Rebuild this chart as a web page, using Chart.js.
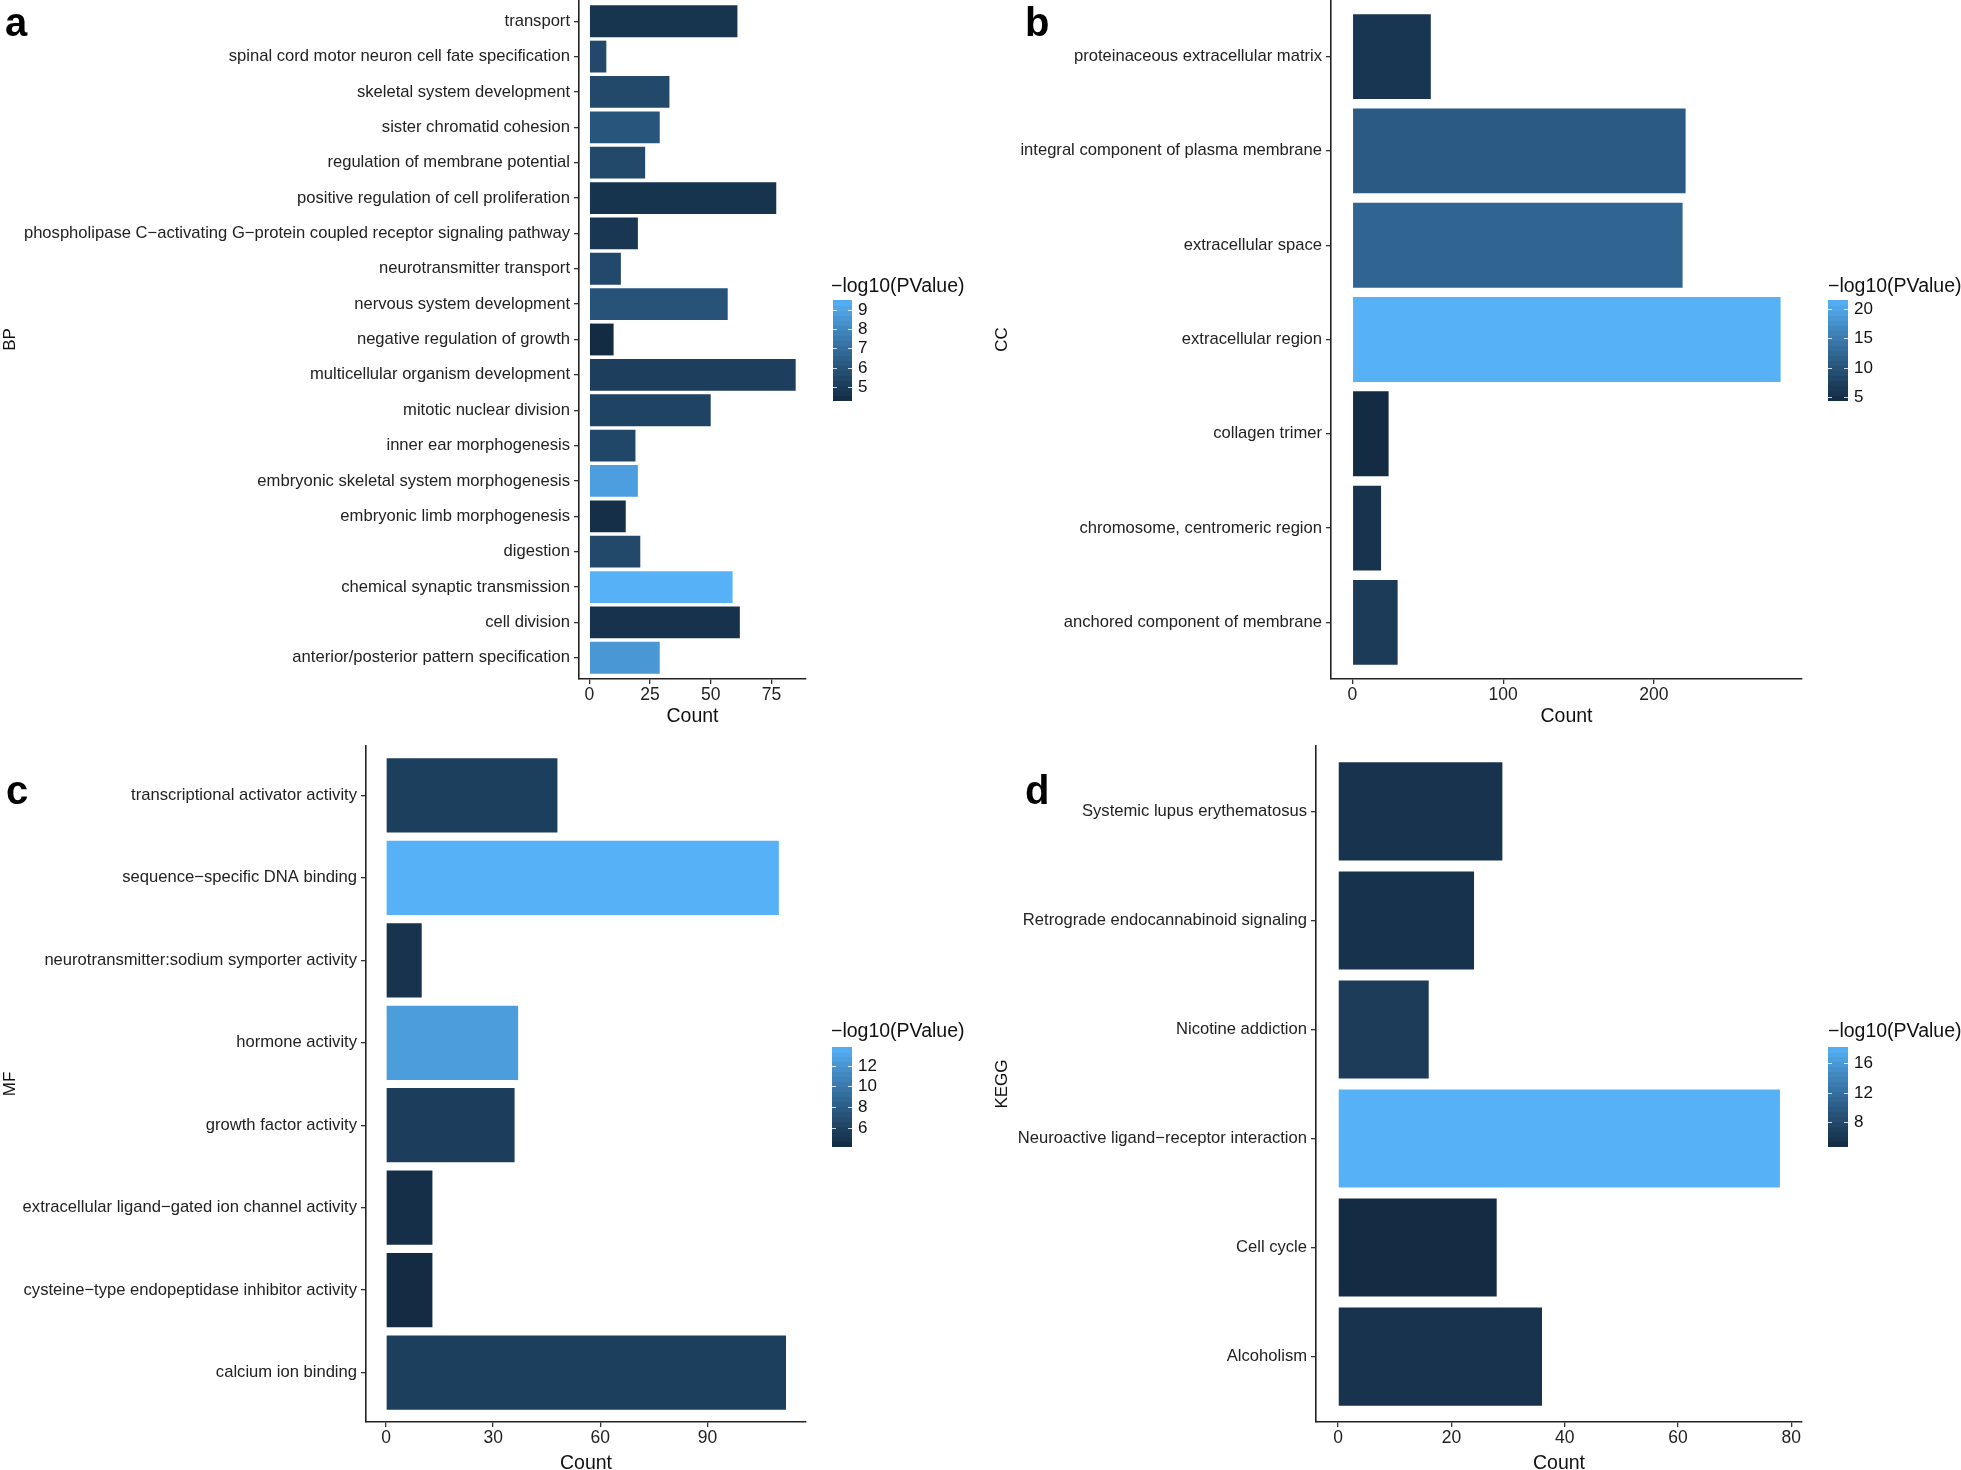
<!DOCTYPE html>
<html>
<head>
<meta charset="utf-8">
<script src="https://cdn.jsdelivr.net/npm/chart.js@4.4.1/dist/chart.umd.min.js"></script>
<style>
  body { margin: 0; background: #fff; width: 1961px; height: 1470px; position: relative; overflow: hidden; }
  canvas { position: absolute; }
</style>
</head>
<body>
<canvas id="ca" width="980" height="735" style="left:0;top:0"></canvas>
<canvas id="cb" width="981" height="735" style="left:980px;top:0"></canvas>
<canvas id="cc" width="980" height="735" style="left:0;top:735px"></canvas>
<canvas id="cd" width="981" height="735" style="left:980px;top:735px"></canvas>
<script>
// ---- data (top to bottom as drawn) ----
const bpTerms = ['transport', 'spinal cord motor neuron cell fate specification', 'skeletal system development',
  'sister chromatid cohesion', 'regulation of membrane potential', 'positive regulation of cell proliferation',
  'phospholipase C\u2212activating G\u2212protein coupled receptor signaling pathway', 'neurotransmitter transport',
  'nervous system development', 'negative regulation of growth', 'multicellular organism development',
  'mitotic nuclear division', 'inner ear morphogenesis', 'embryonic skeletal system morphogenesis',
  'embryonic limb morphogenesis', 'digestion', 'chemical synaptic transmission', 'cell division',
  'anterior/posterior pattern specification'];
const bpCount = [61, 7, 33, 29, 23, 77, 20, 13, 57, 10, 85, 50, 19, 20, 15, 21, 59, 62, 29];
const bpLogP = [4.75, 5.6, 5.55, 6.1, 5.55, 4.7, 4.8, 5.6, 6.0, 4.32, 5.15, 5.35, 5.5, 8.85, 4.5, 5.55, 9.52, 4.65, 8.6];
const bpTicks = [0, 25, 50, 75];
const bpBarTicks = [5, 6, 7, 8, 9];

const ccTerms = ['proteinaceous extracellular matrix', 'integral component of plasma membrane', 'extracellular space',
  'extracellular region', 'collagen trimer', 'chromosome, centromeric region', 'anchored component of membrane'];
const ccCount = [52, 221, 219, 284, 24, 19, 30];
const ccLogP = [6.0, 11.1, 12.4, 21.5, 4.5, 5.7, 6.75];
const ccTicks = [0, 100, 200];
const ccBarTicks = [5, 10, 15, 20];

const mfTerms = ['transcriptional activator activity', 'sequence\u2212specific DNA binding',
  'neurotransmitter:sodium symporter activity', 'hormone activity', 'growth factor activity',
  'extracellular ligand\u2212gated ion channel activity', 'cysteine\u2212type endopeptidase inhibitor activity',
  'calcium ion binding'];
const mfCount = [48, 110, 10, 37, 36, 13, 13, 112];
const mfLogP = [5.85, 13.8, 4.9, 12.5, 5.67, 4.55, 4.26, 5.88];
const mfTicks = [0, 30, 60, 90];
const mfBarTicks = [6, 8, 10, 12];

const keggTerms = ['Systemic lupus erythematosus', 'Retrograde endocannabinoid signaling', 'Nicotine addiction',
  'Neuroactive ligand\u2212receptor interaction', 'Cell cycle', 'Alcoholism'];
const keggCount = [29, 24, 16, 78, 28, 36];
const keggLogP = [5.7, 5.6, 6.66, 18.2, 4.75, 5.7];
const keggTicks = [0, 20, 40, 60, 80];
const keggBarTicks = [8, 12, 16];

const LOW = '#132B43', HIGH = '#56B1F7';
const FONT = '"Liberation Sans", Arial, sans-serif';
Chart.defaults.font.family = FONT;

// ggplot style gradient, mixed in Lab space
function toLin(c) { c /= 255; return c <= 0.04045 ? c / 12.92 : Math.pow((c + 0.055) / 1.055, 2.4); }
function fromLin(c) {
  c = c <= 0.0031308 ? 12.92 * c : 1.055 * Math.pow(c, 1 / 2.4) - 0.055;
  return Math.round(Math.min(1, Math.max(0, c)) * 255);
}
function hexToLab(h) {
  const r = toLin(parseInt(h.slice(1, 3), 16)), g = toLin(parseInt(h.slice(3, 5), 16)), b = toLin(parseInt(h.slice(5, 7), 16));
  const X = (0.4124 * r + 0.3576 * g + 0.1805 * b) / 0.95047;
  const Y = 0.2126 * r + 0.7152 * g + 0.0722 * b;
  const Z = (0.0193 * r + 0.1192 * g + 0.9505 * b) / 1.08883;
  const f = t => t > 0.008856 ? Math.cbrt(t) : 7.787 * t + 16 / 116;
  return [116 * f(Y) - 16, 500 * (f(X) - f(Y)), 200 * (f(Y) - f(Z))];
}
function labToCss(L, a, b) {
  const fy = (L + 16) / 116, fx = fy + a / 500, fz = fy - b / 200;
  const inv = t => t * t * t > 0.008856 ? t * t * t : (t - 16 / 116) / 7.787;
  const X = inv(fx) * 0.95047, Y = inv(fy), Z = inv(fz) * 1.08883;
  const r = 3.2406 * X - 1.5372 * Y - 0.4986 * Z;
  const g = -0.9689 * X + 1.8758 * Y + 0.0415 * Z;
  const bb = 0.0557 * X - 0.2040 * Y + 1.0570 * Z;
  return `rgb(${fromLin(r)},${fromLin(g)},${fromLin(bb)})`;
}
const lowLab = hexToLab(LOW), highLab = hexToLab(HIGH);
function fillFor(v, lo, hi) {
  const t = Math.min(1, Math.max(0, (v - lo) / (hi - lo)));
  return labToCss(...lowLab.map((c, i) => c + (highLab[i] - c) * t));
}

// panel letter + colour bar legend
function decor(letter, lx, ly, cb, lo, hi, barTicks) {
  return {
    id: 'decor',
    afterDraw(chart) {
      const ctx = chart.ctx;
      ctx.save();
      ctx.fillStyle = '#000';
      ctx.textBaseline = 'alphabetic';
      ctx.textAlign = 'left';
      ctx.font = `bold 40px ${FONT}`;
      ctx.fillText(letter, lx, ly);

      ctx.font = `19.5px ${FONT}`;
      ctx.textBaseline = 'middle';
      ctx.fillStyle = '#111';
      ctx.fillText('\u2212log10(PValue)', cb.titleX, cb.titleY);

      const nbin = 20;
      for (let i = 0; i < nbin; i++) {
        const v = lo + (hi - lo) * (i + 0.5) / nbin;
        const y1 = cb.y + cb.h - cb.h * (i + 1) / nbin;
        ctx.fillStyle = fillFor(v, lo, hi);
        ctx.fillRect(cb.x, Math.floor(y1), cb.w, Math.ceil(cb.h / nbin) + 1);
      }
      ctx.strokeStyle = 'rgba(255,255,255,0.8)';
      ctx.lineWidth = 1;
      ctx.font = `17px ${FONT}`;
      ctx.fillStyle = '#111';
      barTicks.forEach(t => {
        const y = Math.round(cb.y + cb.h - (t - lo) / (hi - lo) * cb.h) + 0.5;
        ctx.beginPath();
        ctx.moveTo(cb.x, y); ctx.lineTo(cb.x + 4, y);
        ctx.moveTo(cb.x + cb.w - 4, y); ctx.lineTo(cb.x + cb.w, y);
        ctx.stroke();
        ctx.fillText(String(t), cb.x + cb.w + 6, y);
      });
      ctx.restore();
    }
  };
}

function panel(canvasId, o) {
  const cv = document.getElementById(canvasId);
  const n = o.terms.length;
  const top = Math.max(...o.count);
  const lo = Math.min(...o.logp), hi = Math.max(...o.logp);
  const axisGrid = { drawOnChartArea: false, drawTicks: true, tickLength: 5, color: '#333', lineWidth: 1.3, offset: false };
  const axisBorder = { display: true, color: '#222', width: 1.6 };
  return new Chart(cv, {
    type: 'bar',
    data: {
      datasets: [{
        data: o.count.map((c, i) => ({ x: c, y: i })),
        backgroundColor: o.logp.map(v => fillFor(v, lo, hi)),
        borderWidth: 0,
        categoryPercentage: 0.9,
        barPercentage: 1
      }]
    },
    options: {
      indexAxis: 'y',
      responsive: false,
      animation: false,
      layout: { padding: { left: 0, top: o.area.top, right: cv.width - o.area.right, bottom: 0 } },
      plugins: { legend: { display: false }, tooltip: { enabled: false } },
      scales: {
        x: {
          type: 'linear',
          min: -0.05 * top,
          max: 1.05 * top,
          afterBuildTicks: s => { s.ticks = o.xticks.map(v => ({ value: v })); },
          afterFit: s => { s.height = cv.height - o.area.bottom; s.paddingLeft = 0; s.paddingRight = 0; },
          grid: axisGrid,
          border: axisBorder,
          ticks: { color: '#222', font: { size: 17.5 }, padding: 1, maxRotation: 0, autoSkip: false },
          title: { display: true, text: 'Count', color: '#111', font: { size: 19.5 }, padding: { top: 0, bottom: o.countPad } }
        },
        y: {
          type: 'linear',
          reverse: true,
          offset: false,
          min: -0.6,
          max: n - 0.4,
          afterBuildTicks: s => { s.ticks = o.terms.map((t, i) => ({ value: i })); },
          afterFit: s => { s.width = o.area.left; s.paddingTop = 0; s.paddingBottom = 0; },
          grid: axisGrid,
          border: axisBorder,
          ticks: { callback: v => o.terms[v], autoSkip: false, color: '#222', font: { size: 16.6 }, padding: 4 },
          title: { display: true, text: o.ylab, color: '#111', font: { size: 17 }, padding: { top: o.ylabPad, bottom: 0 } }
        }
      }
    },
    plugins: [decor(o.letter, o.lx, o.ly, o.cb, lo, hi, o.barTicks)]
  });
}

panel('ca', {
  terms: bpTerms, count: bpCount, logp: bpLogP, xticks: bpTicks, barTicks: bpBarTicks,
  ylab: 'BP', letter: 'a', lx: 5, ly: 36, ylabPad: 0, countPad: 7,
  area: { left: 579, top: 0, right: 806, bottom: 679 },
  cb: { x: 833, y: 300, w: 19, h: 100, titleX: 831, titleY: 287 }
});
panel('cb', {
  terms: ccTerms, count: ccCount, logp: ccLogP, xticks: ccTicks, barTicks: ccBarTicks,
  ylab: 'CC', letter: 'b', lx: 45, ly: 36, ylabPad: 12, countPad: 7,
  area: { left: 351, top: 0, right: 822, bottom: 679 },
  cb: { x: 848, y: 300, w: 20, h: 100, titleX: 848, titleY: 287 }
});
panel('cc', {
  terms: mfTerms, count: mfCount, logp: mfLogP, xticks: mfTicks, barTicks: mfBarTicks,
  ylab: 'MF', letter: 'c', lx: 6, ly: 69, ylabPad: 0, countPad: -5,
  area: { left: 366, top: 11, right: 806, bottom: 687 },
  cb: { x: 832, y: 312, w: 20, h: 99, titleX: 831, titleY: 297 }
});
panel('cd', {
  terms: keggTerms, count: keggCount, logp: keggLogP, xticks: keggTicks, barTicks: keggBarTicks,
  ylab: 'KEGG', letter: 'd', lx: 45, ly: 69, ylabPad: 12, countPad: -5,
  area: { left: 336, top: 11, right: 822, bottom: 687 },
  cb: { x: 848, y: 312, w: 20, h: 99, titleX: 848, titleY: 297 }
});
</script>
</body>
</html>
